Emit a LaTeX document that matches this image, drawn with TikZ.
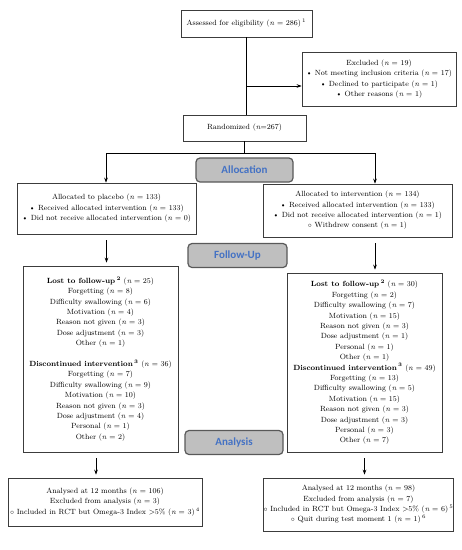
\documentclass[tikz,border=0pt]{standalone}
\usepackage{fontspec}
\usepackage{tikz}
\usetikzlibrary{positioning,arrows.meta}
\newfontfamily\phasefont{Carlito}
\definecolor{phaseblue}{RGB}{68,114,196}
\definecolor{phasegray}{RGB}{191,191,191}
\definecolor{edgegray}{RGB}{60,60,60}
\newcommand{\ncnt}[1]{(\textit{n} = #1)}
\newcommand{\fnote}[1]{\,\textsuperscript{#1}}
\newcommand{\smallcirc}{{\scriptsize$\circ$}}

\begin{document}
\begin{tikzpicture}[x=1pt, y=-1pt, >={Stealth[length=5pt,width=3.6pt]},
    box/.style={draw=edgegray, line width=0.7pt, align=center, inner sep=0pt,
      font=\fontsize{7.5}{10.4}\selectfont},
    phase/.style={draw=black!65, line width=1.2pt, fill=phasegray, rounded corners=4pt,
      inner sep=0pt, minimum height=24pt, text=phaseblue,
      font=\phasefont\bfseries\fontsize{11}{13}\selectfont},
    link/.style={line width=0.7pt},
    flow/.style={->, line width=0.7pt},
    gap/.style={shorten <=6pt, shorten >=3pt}]

	\useasboundingbox (0,0) rectangle (462,550);

	% enrolment
	\node[box, minimum width=131pt, minimum height=27pt] (assess) at (246.5,23.5)
		{Assessed for eligibility \ncnt{286}\fnote{1}};
	\node[box, minimum width=154pt, minimum height=54pt] (excl) at (379,79)
		{Excluded \ncnt{19}\\
		 \textbullet\ Not meeting inclusion criteria \ncnt{17}\\
		 \textbullet\ Declined to participate \ncnt{1}\\
		 \textbullet\ Other reasons \ncnt{1}};
	\node[box, minimum width=123pt, minimum height=26pt] (rand) at (244.5,128)
		{Randomized (\textit{n}=267)};

	% allocation
	\node[box, minimum width=179pt, minimum height=51pt] (placebo) at (106.5,208.5)
		{Allocated to placebo \ncnt{133}\\
		 \textbullet\ Received allocated intervention \ncnt{133}\\
		 \textbullet\ Did not receive allocated intervention \ncnt{0}};
	\node[box, minimum width=189pt, minimum height=53pt] (interv) at (357.5,210.5)
		{Allocated to intervention \ncnt{134}\\
		 \textbullet\ Received allocated intervention \ncnt{133}\\
		 \textbullet\ Did not receive allocated intervention \ncnt{1}\\
		 \smallcirc\ Withdrew consent \ncnt{1}};

	% follow-up
	\node[box, minimum width=155pt, minimum height=186pt] (lostL) at (100.5,359)
		{\textbf{Lost to follow-up\fnote{2}} \ncnt{25}\\
		 Forgetting \ncnt{8}\\
		 Difficulty swallowing \ncnt{6}\\
		 Motivation \ncnt{4}\\
		 Reason not given \ncnt{3}\\
		 Dose adjustment \ncnt{3}\\
		 Other \ncnt{1}\\[10.4pt]
		 \textbf{Discontinued intervention\fnote{3}} \ncnt{36}\\
		 Forgetting \ncnt{7}\\
		 Difficulty swallowing \ncnt{9}\\
		 Motivation \ncnt{10}\\
		 Reason not given \ncnt{3}\\
		 Dose adjustment \ncnt{4}\\
		 Personal \ncnt{1}\\
		 Other \ncnt{2}};
	\node[box, minimum width=155pt, minimum height=179pt] (lostR) at (364.5,362.5)
		{\textbf{Lost to follow-up\fnote{2}} \ncnt{30}\\
		 Forgetting \ncnt{2}\\
		 Difficulty swallowing \ncnt{7}\\
		 Motivation \ncnt{15}\\
		 Reason not given \ncnt{3}\\
		 Dose adjustment \ncnt{1}\\
		 Personal \ncnt{1}\\
		 Other \ncnt{1}\\
		 \textbf{Discontinued intervention\fnote{3}} \ncnt{49}\\
		 Forgetting \ncnt{13}\\
		 Difficulty swallowing \ncnt{5}\\
		 Motivation \ncnt{15}\\
		 Reason not given \ncnt{3}\\
		 Dose adjustment \ncnt{3}\\
		 Personal \ncnt{3}\\
		 Other \ncnt{7}};

	% analysis
	\node[box, minimum width=194pt, minimum height=48pt] (anaL) at (105,502)
		{Analysed at 12 months \ncnt{106}\\
		 Excluded from analysis \ncnt{3}\\
		 \smallcirc\ Included in RCT but Omega-3 Index >5\% \ncnt{3}\fnote{4}};
	\node[box, minimum width=189pt, minimum height=53pt] (anaR) at (358.5,504.5)
		{Analysed at 12 months \ncnt{98}\\
		 Excluded from analysis \ncnt{7}\\
		 \smallcirc\ Included in RCT but Omega-3 Index >5\% \ncnt{6}\fnote{5}\\
		 \smallcirc\ Quit during test moment 1 \ncnt{1}\fnote{6}};

	\coordinate (exit) at (0,86);
	\coordinate (split) at (244.5,153);
	\coordinate (colL) at (106,153);
	\coordinate (colR) at (375,153);
	\coordinate (lowL) at (96,0);

	\draw[link] (assess.south) -- (assess.south |- rand.north);
	\draw[flow] (assess.south |- exit) -- (excl.west |- exit);
	\draw[link] (rand.south) -- (split);
	\draw[link] (colL) -- (colR);
	\draw[flow] (colL) -- (placebo.north -| colL);
	\draw[flow] (colR) -- (interv.north -| colR);
	\draw[flow, gap] (placebo.south) -- (placebo.south |- lostL.north);
	\draw[flow, gap] (interv.south -| colR) -- (lostR.north -| colR);
	\draw[flow, gap] (lostL.south -| lowL) -- (anaL.north -| lowL);
	\draw[flow, gap] (lostR.south) -- (anaR.north -| lostR.south);

	% phase labels
	\node[phase, minimum width=97pt] (alloc) at (244.5,170) {Allocation};
	\node[phase, minimum width=99pt] (follow) at (237.5,255.5) {Follow-Up};
	\node[phase, minimum width=98pt] (analysis) at (234,442.5) {Analysis};
\end{tikzpicture}
\end{document}
